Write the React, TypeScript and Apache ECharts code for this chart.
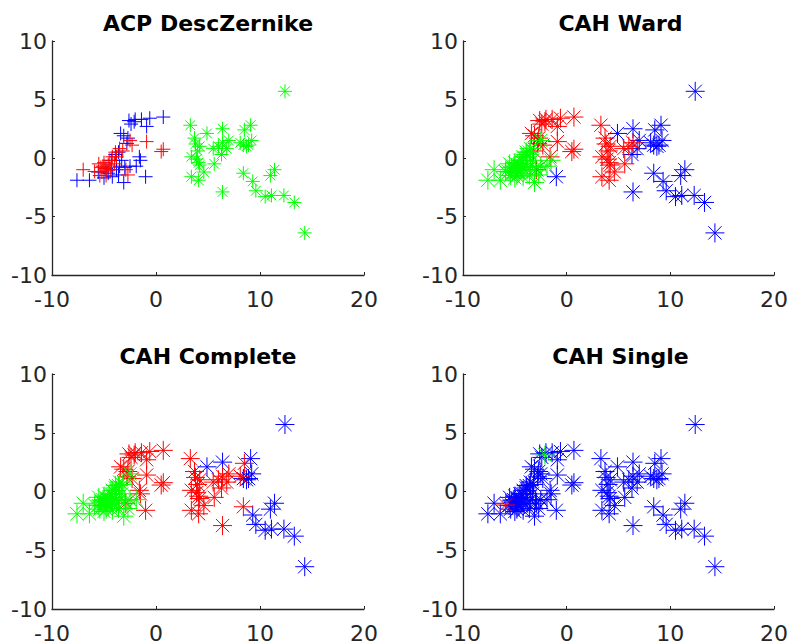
import React, { useEffect, useRef } from "react";
import * as echarts from "echarts";

// Point coordinates (shared by all four panels)
const xs = [
  12.4, 3.3, 4.9, 6.4, 8.5, 9.1, 3.7, 4.2, 5.5, 6.0,
  6.4, 6.8, 6.3, 8.1, 8.4, 8.9, 9.2, 8.7, 3.4, 3.9,
  4.1, 4.2, 4.6, 5.6, 3.4, 4.1, 6.4, 8.4, 9.3, 9.6,
  10.5, 11.1, 11.0, 11.4, 12.3, 13.3, 14.3, 4.0, 3.8, 7.0,
  0.7, -0.6, -1.4, -0.9, -2.0, -2.1, -2.4, -2.6, -3.4, -3.1,
  -2.7, -2.8, -0.9, 0.5, 0.7, -2.3, -2.5, -1.6, -1.5, -1.9,
  -1.0, -3.3, -3.5, -3.1, -3.6, -4.6, -4.8, -5.55, -6.4, -7.6,
  -4.3, -3.9, -3.6, -2.7, -7.0, -5.9, -5.5, -5.3, -5.2, -5.0,
  -4.9, -4.8, -4.6, -4.5, -4.4, -4.2, -4.0, -3.9, -3.5, -3.2,
  -5.1, -4.7, -5.4, -4.3, -3.8, -5.0, -4.2, -3.8, -3.0, -2.5,
  -2.9,
];
const ys = [
  5.7, 2.8, 2.1, 2.5, 2.4, 2.8, 1.7, 1.0, 0.8, 1.0,
  1.3, 0.8, 0.3, 1.3, 1.1, 1.1, 1.5, 1.0, 0.1, -0.1,
  -0.4, -0.6, -1.2, -0.5, -1.6, -1.9, -2.9, -1.3, -2.0, -2.8,
  -3.3, -3.2, -1.5, -1.0, -3.2, -3.8, -6.4, 0.6, 1.2, 1.5,
  3.5, 3.4, 3.3, 2.7, 3.3, 3.1, 2.9, 3.2, 2.1, 1.9,
  1.7, 1.25, 1.4, 0.55, 0.75, 1.1, 1.5, 0.1, -0.2, -0.7,
  -1.6, -0.2, -0.7, -2.1, -1.45, -1.3, -0.9, -1.2, -1.9, -1.9,
  -0.2, 0.3, 0.5, -1.45, -1.0, -1.15, -0.5, -0.8, -1.2, -0.4,
  -0.9, -1.5, -0.6, -0.2, -1.0, 0.1, -0.5, 0.5, 0.8, 0.6,
  -0.7, -1.1, -1.5, -0.8, 0.1, -1.7, -1.6, -1.0, -0.8, -0.7,
  -1.0,
];

// Group colour of each point in each panel (b = blue, r = red, g = green)
const acpGroups =
  "gggggggggggggggggggggggggggggggggggggggg" +
  "bbbbbbbbbbbbrrrrrbbbbbbbbbbbbbbbbrrrrrrr" +
  "rrrrrrrrrrrrrrrbbbbbr";
const wardGroups =
  "brbbbbrrrrrbbbbbbbrrrrrrrrbbbbbbbbbbbrrb" +
  "rrrrrrrrrrrrrrrrgrggbggggggggggggggggggg" +
  "gggggggggrggggggggggr";
const completeGroups =
  "brbbrbrrrrrrrrbbbbrrrrrrrrrrbbbbbbbbbrrr" +
  "rrrrrrrrrrrrrrrrgrrgrggggggggggggggggggg" +
  "ggggggggggggggggggggr";
const singleGroups =
  "bbbbbbbbbbbbbbbbbbbbbbbbbbbbbbbbbbbbbbbb" +
  "bbbbbgbbbbbbbbbbbbbbbbbbbbbbbbbbbbbrbbbb" +
  "bbbbbbbbbbbbbbbbbbbbb";

const panelTitles = ["ACP DescZernike", "CAH Ward", "CAH Complete", "CAH Single"];
const xTicks = { min: -10, max: 20, interval: 10 };
const yTicks = { min: -10, max: 10, interval: 5 };

const COLORS: Record<string, string> = { b: "#0000ff", r: "#ff0000", g: "#00ff00" };
const PLUS = "path://M0 -10L0 10M-10 0L10 0";
const STAR = "path://M0 -10L0 10M-10 0L10 0M-7 -7L7 7M-7 7L7 -7";

const grids = [
  { left: 52, top: 41, width: 312, height: 234 },
  { left: 463, top: 41, width: 315, height: 234 },
  { left: 52, top: 374, width: 312, height: 235 },
  { left: 463, top: 374, width: 315, height: 235 },
];

const FONT = "DejaVu Sans";
const AX = "#262626";

export default function App() {
  const ref = useRef<HTMLDivElement>(null);
  useEffect(() => {
    if (!ref.current) return;
    const chart = echarts.init(ref.current, undefined, { renderer: "svg" });
    const groupSets = [acpGroups, wardGroups, completeGroups, singleGroups];
    const series: any[] = [];
    groupSets.forEach((gs, pi) => {
      ["b", "r", "g"].forEach((c) => {
        const data: number[][] = [];
        for (let i = 0; i < xs.length; i++) {
          if (gs[i] === c) data.push([xs[i], ys[i]]);
        }
        let symbol = STAR;
        let size = 19;
        if (pi === 0) {
          symbol = c === "g" ? STAR : PLUS;
          size = 14;
        }
        series.push({
          type: "scatter",
          xAxisIndex: pi,
          yAxisIndex: pi,
          data,
          symbol,
          symbolSize: size,
          silent: true,
          itemStyle: { color: COLORS[c], borderColor: COLORS[c], borderWidth: 1, opacity: 1 },
          emphasis: { disabled: true },
        });
      });
    });
    const axisCommon = {
      axisLine: { show: true, onZero: false, lineStyle: { color: AX, width: 1.3 } },
      axisTick: { show: true, inside: true, length: 3, lineStyle: { color: AX, width: 1 } },
      splitLine: { show: false },
      axisLabel: { color: AX, fontSize: 22, fontFamily: FONT },
    };
    const option: any = {
      animation: false,
      grid: grids.map((g) => ({ ...g, containLabel: false })),
      xAxis: grids.map((_, i) => ({
        type: "value",
        gridIndex: i,
        ...xTicks,
        ...axisCommon,
        axisLabel: { ...axisCommon.axisLabel, margin: 13 },
      })),
      yAxis: grids.map((_, i) => ({
        type: "value",
        gridIndex: i,
        ...yTicks,
        ...axisCommon,
        axisLabel: { ...axisCommon.axisLabel, margin: 5 },
      })),
      series,
      graphic: panelTitles.map((t, i) => ({
        type: "text",
        x: grids[i].left + grids[i].width / 2,
        y: i < 2 ? 23 : 356,
        style: {
          text: t,
          fill: "#000",
          font: `bold 22px "${FONT}"`,
          textAlign: "center",
          textVerticalAlign: "middle",
        },
      })),
    };
    chart.setOption(option);
    return () => chart.dispose();
  }, []);
  return (
    <div
      ref={ref}
      style={{ position: "absolute", left: 0, top: 0, width: 791, height: 644, background: "#fff" }}
    />
  );
}
